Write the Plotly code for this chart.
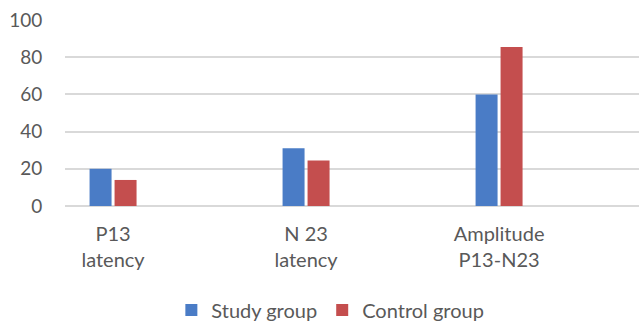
import plotly.graph_objects as go

categories = ["P13<br>latency", "N 23<br>latency", "Amplitude<br>P13-N23"]
study_group = [20, 31, 60]
control_group = [14, 24.5, 85.5]
y_ticks = [0, 20, 40, 60, 80, 100]

xpos = list(range(len(categories)))

fig = go.Figure()
fig.add_trace(go.Bar(x=xpos, y=study_group, name="Study group",
                     marker=dict(color="#4a7cc6", line=dict(width=0))))
fig.add_trace(go.Bar(x=xpos, y=control_group, name="Control group",
                     marker=dict(color="#c44e4e", line=dict(width=0))))

font_family = "Lato, 'Open Sans', sans-serif"
fig.update_layout(
    width=639, height=322,
    margin=dict(l=65, r=0, t=20, b=116),
    plot_bgcolor="white", paper_bgcolor="white",
    barmode="group", bargap=0.741, bargroupgap=0.12,
    font=dict(family=font_family, size=20, color="#595959"),
    showlegend=True,
    legend=dict(orientation="h", x=0.517, xanchor="center", xref="container",
                y=0.037, yanchor="middle", yref="container",
                font=dict(size=20, color="#595959"), itemwidth=30, traceorder="normal"),
    xaxis=dict(range=[-0.249, 2.725], tickmode="array", tickvals=xpos, ticktext=categories,
               showgrid=False, zeroline=False, showline=False, automargin=False,
               ticks="outside", ticklen=10, tickcolor="rgba(0,0,0,0)"),
    yaxis=dict(range=[0, 100], tickvals=y_ticks, showgrid=True, gridcolor="#d9d9d9", gridwidth=1.5,
               zeroline=True, zerolinecolor="#d9d9d9", zerolinewidth=1.5, automargin=False,
               showline=False, ticks="outside", ticklen=18, tickcolor="rgba(0,0,0,0)",
               tickfont=dict(size=19)),
)
fig.write_html("out.html", config={"displayModeBar": False},
               post_script="document.body.style.margin='0';")
